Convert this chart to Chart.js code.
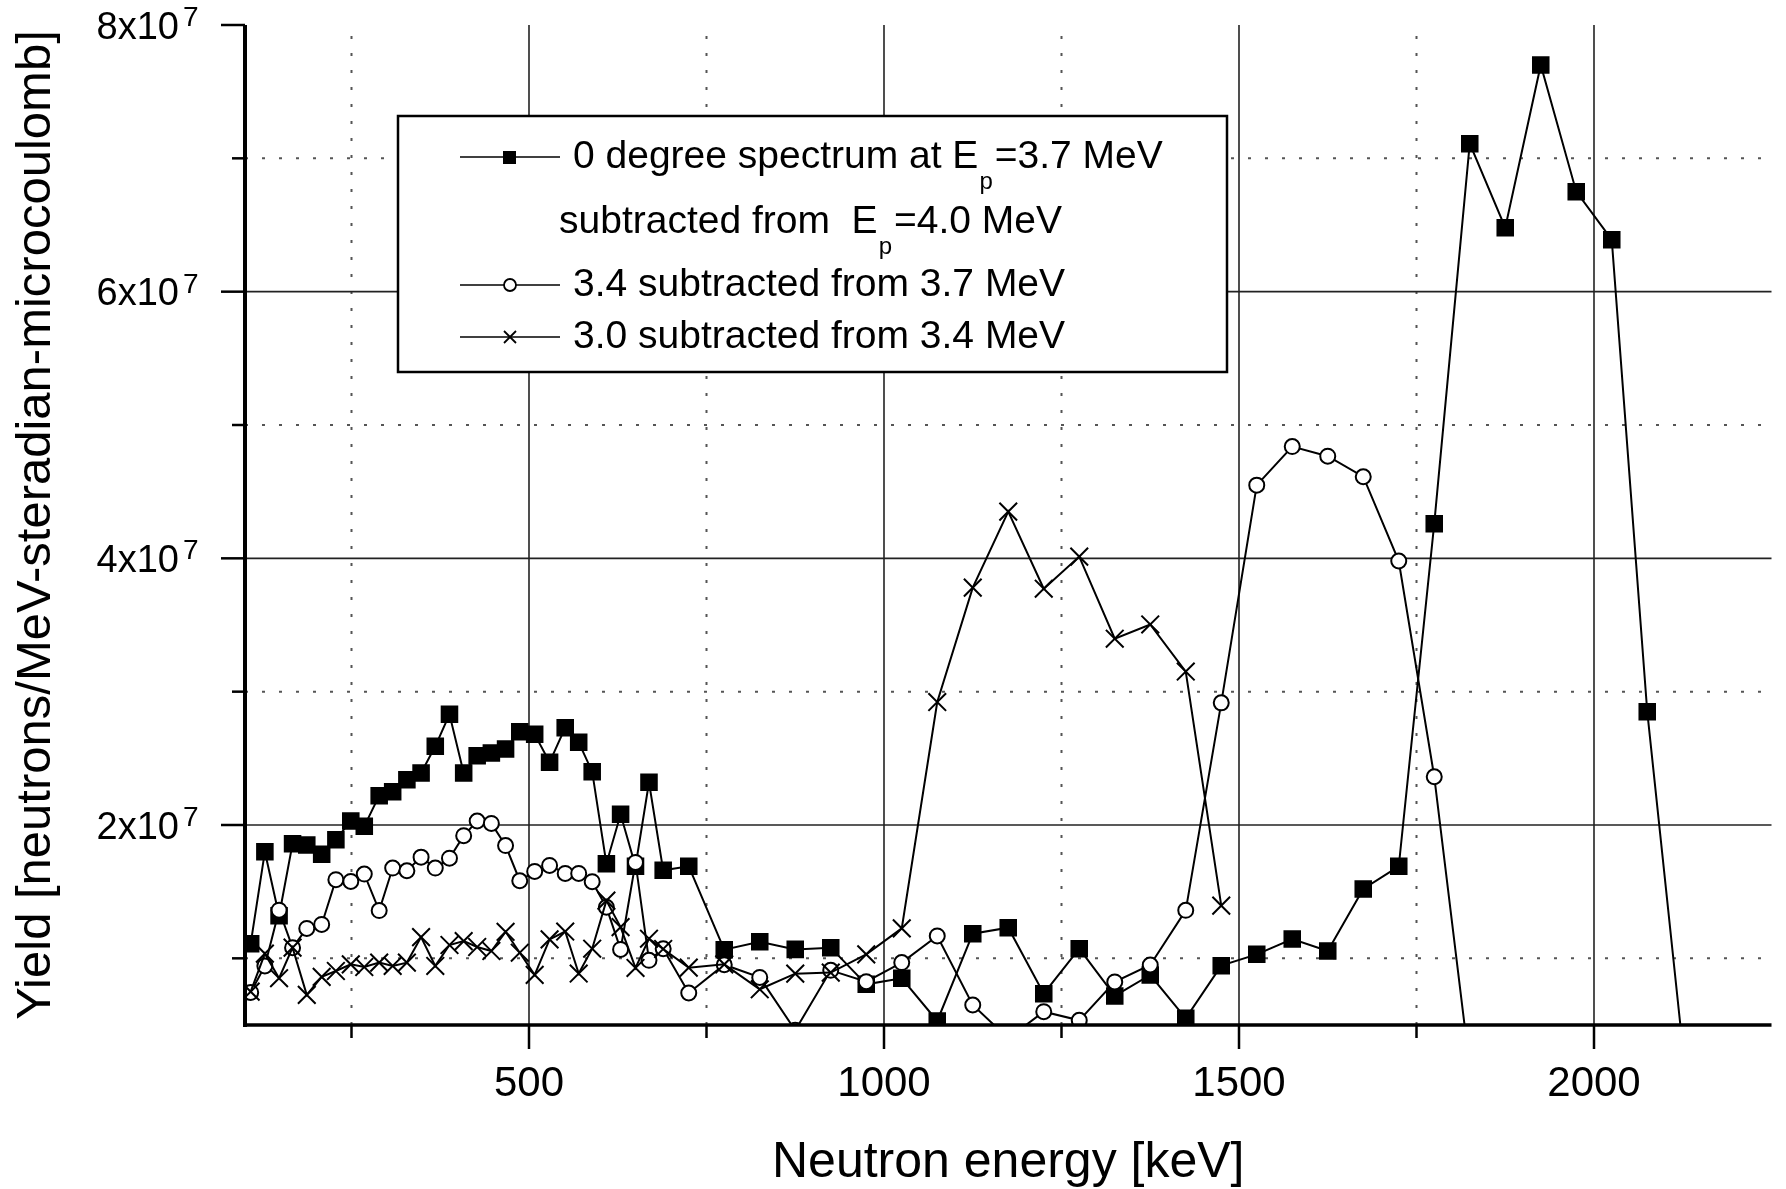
<!DOCTYPE html>
<html lang="en">
<head>
<meta charset="UTF-8">
<title>Neutron yield spectra</title>
<script src="https://cdn.jsdelivr.net/npm/chart.js"></script>
<style>
  html, body { margin: 0; padding: 0; background: #fff; }
  #spectrum { display: block; }
</style>
</head>
<body>
<canvas id="spectrum" width="1786" height="1189"></canvas>
<script>
// neutron energy of each bin, keV
const energy = [108, 128, 148, 167, 187, 208, 228, 249, 268, 289, 308, 328, 348, 368, 388,
                408, 427, 447, 467, 487, 508, 529, 551, 570, 589, 609, 629, 650, 669, 689,
                725, 775, 825, 875, 925, 975, 1025, 1075, 1125, 1175, 1225, 1275, 1325, 1375,
                1425, 1475, 1525, 1575, 1625, 1675, 1725, 1775, 1825, 1875, 1925, 1975, 2025,
                2075, 2125];

// yields in units of 10^7 neutrons/MeV-sr-uC
// 0 degree, Ep=3.7 subtracted from Ep=4.0 MeV (filled squares)
const yield40 = [1.11, 1.80, 1.32, 1.86, 1.85, 1.78, 1.89, 2.03, 1.99, 2.22, 2.25, 2.34, 2.39, 2.59, 2.83,
                 2.39, 2.52, 2.54, 2.57, 2.70, 2.68, 2.47, 2.73, 2.62, 2.40, 1.71, 2.08, 1.69, 2.32, 1.66,
                 1.69, 1.065, 1.125, 1.067, 1.08, 0.805, 0.85, 0.53, 1.185, 1.23, 0.735, 1.072, 0.718, 0.875,
                 0.55, 0.945, 1.03, 1.145, 1.055, 1.52, 1.69, 4.26, 7.11, 6.48, 7.70, 6.75, 6.39,
                 2.85, 0.33];
// 3.4 subtracted from 3.7 MeV (open circles)
const yield37 = [0.744, 0.943, 1.361, 1.08, 1.224, 1.254, 1.59, 1.577, 1.632, 1.358, 1.677, 1.657, 1.759, 1.677, 1.751,
                 1.92, 2.03, 2.012, 1.846, 1.582, 1.652, 1.697, 1.637, 1.637, 1.575, 1.383, 1.067, 1.719, 0.985, 1.072,
                 0.74, 0.952, 0.857, 0.46, 0.91, 0.825, 0.968, 1.168, 0.65, 0.40, 0.60, 0.535, 0.823, 0.95,
                 1.36, 2.916, 4.549, 4.838, 4.766, 4.612, 3.98, 2.362, 0.18];
// 3.0 subtracted from 3.4 MeV (crosses)
const yield34 = [0.75, 1.035, 0.851, 1.08, 0.726, 0.861, 0.905, 0.955, 0.935, 0.968, 0.943, 0.968, 1.159, 0.943, 1.10,
                 1.129, 1.085, 1.055, 1.199, 1.042, 0.876, 1.142, 1.201, 0.886, 1.072, 1.433, 1.234, 0.928, 1.147, 1.07,
                 0.93, 0.955, 0.768, 0.885, 0.893, 1.03, 1.225, 2.922, 3.78, 4.35, 3.772, 4.013, 3.397, 3.504,
                 3.151, 1.395];

const xMajor = [500, 1000, 1500, 2000];
const xMinor = [250, 750, 1250, 1750];
const yMajor = [2, 4, 6, 8];
const yMinor = [1, 3, 5, 7];
const yTickText = ['2x10', '4x10', '6x10', '8x10'];
const yTickExp = '7';

const FONT = '"Liberation Sans", Arial, Helvetica, sans-serif';

function points(vals) {
    return vals.map((v, i) => ({ x: energy[i], y: v }));
}

function seg(ctx, x1, y1, x2, y2) {
    ctx.beginPath();
    ctx.moveTo(x1, y1);
    ctx.lineTo(x2, y2);
    ctx.stroke();
}

function drawLegend(ctx) {
    const big = '39px ' + FONT;
    const small = '24px ' + FONT;
    ctx.save();
    ctx.fillStyle = '#fff';
    ctx.fillRect(398, 116, 829, 256);
    ctx.strokeStyle = '#000';
    ctx.lineWidth = 2.5;
    ctx.strokeRect(398, 116, 829, 256);

    // sample lines and markers
    ctx.lineWidth = 1.6;
    [157, 285, 337].forEach(yy => seg(ctx, 460, yy, 560, yy));
    ctx.fillStyle = '#000';
    ctx.fillRect(503, 151, 13, 13);
    ctx.beginPath();
    ctx.arc(510, 285, 6, 0, Math.PI * 2);
    ctx.fillStyle = '#fff';
    ctx.fill();
    ctx.lineWidth = 1.8;
    ctx.stroke();
    seg(ctx, 504, 331, 516, 343);
    seg(ctx, 504, 343, 516, 331);

    ctx.fillStyle = '#000';
    ctx.textBaseline = 'alphabetic';
    ctx.textAlign = 'left';

    // text with subscript p
    function withSub(before, after, x, base) {
        ctx.font = big;
        ctx.fillText(before, x, base);
        let xx = x + ctx.measureText(before).width;
        ctx.font = small;
        ctx.fillText('p', xx + 1, base + 21);
        xx += 1 + ctx.measureText('p').width + 2;
        ctx.font = big;
        ctx.fillText(after, xx, base);
    }
    withSub('0 degree spectrum at E', '=3.7 MeV', 573, 168);
    withSub('subtracted from  E', '=4.0 MeV', 559, 233);
    ctx.font = big;
    ctx.fillText('3.4 subtracted from 3.7 MeV', 573, 296);
    ctx.fillText('3.0 subtracted from 3.4 MeV', 573, 348);
    ctx.restore();
}

const frame = {
    id: 'frame',
    beforeDatasetsDraw(chart) {
        const { ctx, chartArea: a, scales: { x, y } } = chart;
        ctx.save();
        // dotted minor grid
        ctx.strokeStyle = '#555';
        ctx.lineWidth = 2;
        ctx.setLineDash([3, 14]);
        xMinor.forEach(v => { const p = x.getPixelForValue(v); seg(ctx, p, a.bottom, p, a.top); });
        yMinor.forEach(v => { const p = y.getPixelForValue(v); seg(ctx, a.left, p, a.right, p); });
        // solid major grid
        ctx.setLineDash([]);
        ctx.strokeStyle = '#222';
        ctx.lineWidth = 1.6;
        xMajor.forEach(v => { const p = x.getPixelForValue(v); seg(ctx, p, a.bottom, p, a.top); });
        yMajor.filter(v => v < 8).forEach(v => { const p = y.getPixelForValue(v); seg(ctx, a.left, p, a.right, p); });
        ctx.restore();
    },
    afterDatasetsDraw(chart) {
        const { ctx, chartArea: a, scales: { x, y } } = chart;
        ctx.save();
        ctx.strokeStyle = '#000';
        // axes
        ctx.lineWidth = 4;
        seg(ctx, a.left, a.top, a.left, a.bottom + 2);
        ctx.lineWidth = 3.5;
        seg(ctx, a.left - 2, a.bottom, a.right, a.bottom);
        // outward ticks
        ctx.lineWidth = 2.5;
        yMajor.forEach(v => { const p = y.getPixelForValue(v); seg(ctx, a.left, p, a.left - 24, p); });
        yMinor.forEach(v => { const p = y.getPixelForValue(v); seg(ctx, a.left, p, a.left - 13, p); });
        xMajor.forEach(v => { const p = x.getPixelForValue(v); seg(ctx, p, a.bottom, p, a.bottom + 24); });
        xMinor.forEach(v => { const p = x.getPixelForValue(v); seg(ctx, p, a.bottom, p, a.bottom + 13); });

        // y tick labels with raised exponent
        ctx.fillStyle = '#000';
        ctx.textBaseline = 'alphabetic';
        yMajor.forEach((v, i) => {
            const p = y.getPixelForValue(v);
            ctx.font = '38px ' + FONT;
            ctx.textAlign = 'right';
            ctx.fillText(yTickText[i], 179, p + 13.5);
            ctx.font = '28px ' + FONT;
            ctx.textAlign = 'left';
            ctx.fillText(yTickExp, 183, p + 1);
        });
        ctx.restore();
        drawLegend(ctx);
    }
};

const lineStyle = {
    borderColor: '#000',
    borderWidth: 2,
    tension: 0,
    fill: false,
    pointBorderColor: '#000',
    pointBorderWidth: 2
};

new Chart(document.getElementById('spectrum'), {
    type: 'line',
    data: {
        datasets: [
            Object.assign({
                label: '3.0 subtracted from 3.4 MeV',
                data: points(yield34),
                pointStyle: 'crossRot',
                pointRadius: 12.5,
                pointBackgroundColor: '#000',
                order: 0
            }, lineStyle),
            Object.assign({
                label: '3.4 subtracted from 3.7 MeV',
                data: points(yield37),
                pointStyle: 'circle',
                pointRadius: 7.5,
                pointBackgroundColor: '#fff',
                order: 1
            }, lineStyle),
            Object.assign({
                label: '0 degree spectrum at Ep=3.7 MeV subtracted from Ep=4.0 MeV',
                data: points(yield40),
                pointStyle: 'rect',
                pointRadius: 11,
                pointBackgroundColor: '#000',
                order: 2
            }, lineStyle)
        ]
    },
    options: {
        responsive: false,
        devicePixelRatio: 1,
        animation: false,
        events: [],
        layout: { padding: { top: 25, right: 1, left: 0, bottom: 0 } },
        plugins: {
            legend: { display: false },
            tooltip: { enabled: false }
        },
        scales: {
            x: {
                type: 'linear',
                position: 'bottom',
                min: 100,
                max: 2250,
                afterBuildTicks: s => { s.ticks = xMajor.map(v => ({ value: v })); },
                afterFit: s => { s.height = 164; },
                grid: { display: false, drawTicks: false },
                border: { display: false },
                ticks: {
                    autoSkip: false,
                    maxRotation: 0,
                    padding: 34,
                    color: '#000',
                    font: { family: FONT, size: 42 },
                    callback: v => String(v)
                },
                title: {
                    display: true,
                    text: 'Neutron energy [keV]',
                    color: '#000',
                    font: { family: FONT, size: 50 },
                    padding: { top: 0, bottom: -4 }
                }
            },
            y: {
                type: 'linear',
                min: 0.5,
                max: 8,
                afterFit: s => { s.width = 245; s.paddingTop = 0; s.paddingBottom = 0; },
                grid: { display: false, drawTicks: false },
                border: { display: false },
                ticks: { display: false },
                title: {
                    display: true,
                    text: 'Yield [neutrons/MeV-steradian-microcoulomb]',
                    color: '#000',
                    font: { family: FONT, size: 49 },
                    padding: { top: 7, bottom: 0 }
                }
            }
        }
    },
    plugins: [frame]
});
</script>
</body>
</html>
